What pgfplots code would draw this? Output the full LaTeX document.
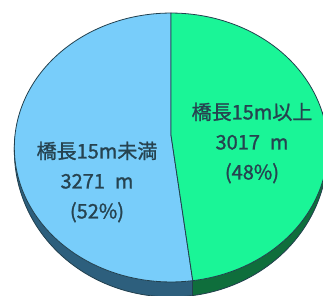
\documentclass[border=0pt]{standalone}
\usepackage{pgfplots}
\pgfplotsset{compat=1.18}
\usepgfplotslibrary{fillbetween}
\usepackage{fontspec}
\setmainfont{Noto Sans CJK JP}
\newfontfamily\lab{Noto Sans CJK JP}[FakeBold=1.2]
\definecolor{topblue}{HTML}{78CDFA}
\definecolor{topgreen}{HTML}{1AF597}
\definecolor{sideblue}{HTML}{2D5F7D}
\definecolor{sidegreen}{HTML}{0F6E3C}
\definecolor{edge}{HTML}{22404E}
\definecolor{txt}{HTML}{264350}
% data (m)
\def\valA{3017} % 橋長15m以上
\def\valB{3271} % 橋長15m未満
\pgfmathsetmacro\fracA{\valA/(\valA+\valB)}
\pgfmathsetmacro\angA{360*\fracA}
\pgfmathsetmacro\sA{90-\angA}
\pgfmathsetmacro\eB{450-\angA}
\pgfmathsetmacro\splitx{171+156*cos(\eB)/(1+0.093*sin(\eB))}
\pgfmathsetmacro\splityt{161+133.3*sin(\eB)/(1+0.093*sin(\eB))}
\pgfmathsetmacro\splityb{\splityt-2+13*sin(\eB)}
\begin{document}
\begin{tikzpicture}
\begin{axis}[width=323pt, height=296pt, scale only axis,
  xmin=0, xmax=323, ymin=0, ymax=296, hide axis, clip=true,
  declare function={px(\t)=171+156*cos(\t)/(1+0.093*sin(\t));
                    py(\t)=161+133.3*sin(\t)/(1+0.093*sin(\t));
                    pb(\t)=py(\t)-2+13*sin(\t);}]
% side of blue slice
\addplot[draw=none, name path=bt, domain=180:\eB, samples=80, variable=\t] ({px(\t)},{py(\t)});
\addplot[draw=none, name path=bb, domain=180:\eB, samples=80, variable=\t] ({px(\t)},{pb(\t)});
\addplot[sideblue] fill between[of=bt and bb];
% side of green slice
\addplot[draw=none, name path=gt, domain=\eB-360:10, samples=80, variable=\t] ({px(\t)},{py(\t)});
\addplot[draw=none, name path=gb, domain=\eB-360:10, samples=80, variable=\t] ({px(\t)},{pb(\t)});
\addplot[sidegreen] fill between[of=gt and gb];
% outlines of the side
\addplot[edge, line width=0.8pt, domain=180:370, samples=120, variable=\t] ({px(\t)},{pb(\t)});
\addplot[edge, line width=0.8pt] coordinates {(\splitx,\splityt) (\splitx,\splityb)};
% top faces
\addplot[fill=topblue, draw=edge, line width=0.8pt, domain=90:\eB, samples=140, variable=\t]
  ({px(\t)},{py(\t)}) -- (axis cs:171,161) -- cycle;
\addplot[fill=topgreen, draw=edge, line width=0.8pt, domain=\sA:90, samples=140, variable=\t]
  ({px(\t)},{py(\t)}) -- (axis cs:171,161) -- cycle;
% labels
\node[text=txt, font=\lab\fontsize{20}{30}\selectfont, align=center] at (axis cs:252,153)
  {橋長15m以上\\3017\hspace{0.5em}m\\(48\%)};
\node[text=txt, font=\lab\fontsize{20}{30}\selectfont, align=center] at (axis cs:97,114)
  {橋長15m未満\\3271\hspace{0.5em}m\\(52\%)};
\end{axis}
\pgfresetboundingbox
\path (current axis.south west) rectangle (current axis.north east);
\end{tikzpicture}
\end{document}
